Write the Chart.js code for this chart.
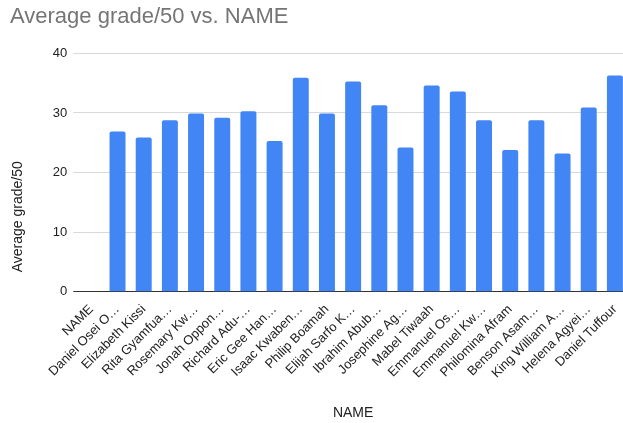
<!DOCTYPE html>
<html>
<head>
<meta charset="utf-8">
<script src="https://cdn.jsdelivr.net/npm/chart.js@4/dist/chart.umd.min.js"></script>
<style>
  html, body { margin: 0; padding: 0; background: #fff; overflow: hidden; }
  #wrap { width: 628px; height: 423px; position: relative; }
</style>
</head>
<body>
<div id="wrap"><canvas id="chart"></canvas></div>
<script>
const names = [
  'NAME', 'Daniel Osei O…', 'Elizabeth Kissi', 'Rita Gyamfua…', 'Rosemary Kw…',
  'Jonah Oppon…', 'Richard Adu-…', 'Eric Gee Han…', 'Isaac Kwaben…', 'Philip Boamah',
  'Elijah Sarfo K…', 'Ibrahim Abub…', 'Josephine Ag…', 'Mabel Tiwaah', 'Emmanuel Os…',
  'Emmanuel Kw…', 'Philomina Afram', 'Benson Asam…', 'King William A…', 'Helena Agyei…',
  'Daniel Tuffour'
];
const grades = [
  null, 26.9, 25.9, 28.8, 29.9,
  29.2, 30.3, 25.3, 35.9, 29.9,
  35.3, 31.3, 24.2, 34.6, 33.6,
  28.8, 23.8, 28.8, 23.2, 30.9,
  36.3
];
const yTicks = [0, 10, 20, 30, 40];

const font = "Arial, 'Liberation Sans', sans-serif";

new Chart(document.getElementById('chart'), {
  type: 'bar',
  data: {
    labels: names,
    datasets: [{
      label: 'Average grade/50',
      data: grades,
      backgroundColor: '#4285F4',
      borderRadius: 2,
      borderSkipped: 'bottom',
      categoryPercentage: 0.61,
      barPercentage: 1.0,
    }],
  },
  options: {
    responsive: true,
    maintainAspectRatio: false,
    animation: false,
    layout: { padding: { left: 10, right: 0, top: 2, bottom: 0 } },
    plugins: {
      legend: { display: false },
      tooltip: { enabled: false },
      title: {
        display: true,
        text: 'Average grade/50 vs. NAME',
        align: 'start',
        color: '#757575',
        font: { family: font, size: 22, weight: 'normal' },
        padding: { top: 2, bottom: 23 },
      },
    },
    scales: {
      x: {
        grid: { display: false },
        border: { color: '#333333', width: 1 },
        ticks: {
          color: '#222222',
          font: { family: font, size: 13 },
          minRotation: 45,
          maxRotation: 45,
          autoSkip: false,
          padding: 2,
        },
        title: {
          display: true,
          text: 'NAME',
          color: '#222222',
          font: { family: font, size: 14 },
          padding: { top: 22, bottom: 1 },
        },
      },
      y: {
        min: 0,
        max: 40,
        afterBuildTicks: (axis) => { axis.ticks = yTicks.map(v => ({ value: v })); },
        grid: {
          color: (ctx) => (ctx.tick && ctx.tick.value === 0 ? '#333333' : '#d9d9d9'),
          drawTicks: true,
          tickLength: 5,
        },
        border: { display: false },
        ticks: {
          color: '#222222',
          font: { family: font, size: 13 },
          padding: 6,
        },
        title: {
          display: true,
          text: '     Average grade/50',
          align: 'start',
          color: '#222222',
          font: { family: font, size: 14 },
          padding: { top: 0, bottom: 20 },
        },
      },
    },
  },
});
</script>
</body>
</html>
